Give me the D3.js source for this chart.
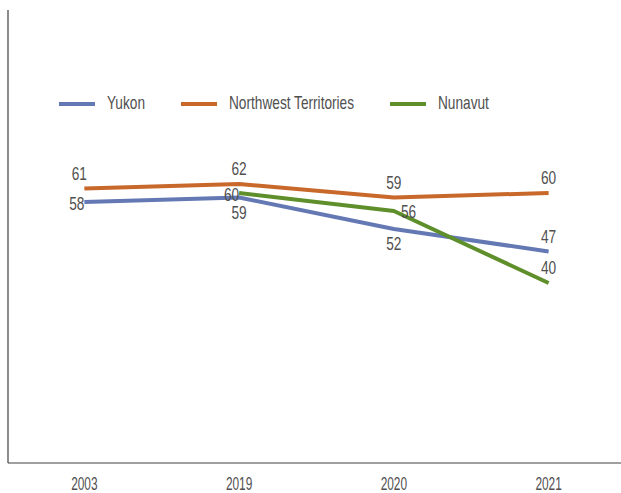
<!DOCTYPE html>
<html>
<head>
<meta charset="utf-8">
<script src="https://cdn.jsdelivr.net/npm/d3@7"></script>
<style>
  html, body { margin: 0; padding: 0; background: #fff; }
  svg text { font-family: "Liberation Sans", Arial, sans-serif; fill: #505050; }
</style>
</head>
<body>
<svg id="chart" width="621" height="493"></svg>
<script>
// Survey years along the x axis
const years = ["2003", "2019", "2020", "2021"];

// Series values per year (null = no data)
const yukon = [58, 59, 52, 47];
const northwest = [61, 62, 59, 60];
const nunavut = [null, 60, 56, 40];

// Where each value label sits relative to its point
const yukonLabelPos = ["left", "below", "below", "above"];
const northwestLabelPos = ["above", "above", "above", "above"];
const nunavutLabelPos = [null, "left", "right", "above"];

const seriesNames = ["Yukon", "Northwest Territories", "Nunavut"];
const seriesColors = ["#6479B4", "#C8682A", "#5E8F2B"];

const series = [
  { name: seriesNames[0], color: seriesColors[0], values: yukon, pos: yukonLabelPos },
  { name: seriesNames[1], color: seriesColors[1], values: northwest, pos: northwestLabelPos },
  { name: seriesNames[2], color: seriesColors[2], values: nunavut, pos: nunavutLabelPos }
];

// Narrow type: regular face squeezed horizontally
function narrowText(sel, px, py, k = 0.7) {
  sel.attr("x", 0).attr("y", 0)
    .attr("transform", `translate(${px},${py}) scale(${k},1)`);
}

const svg = d3.select("#chart");

const x = d3.scaleBand().domain(years).range([7, 626]);
const y = d3.scaleLinear().domain([0, 100]).range([463, 13]);
const cx = d => x(d) + x.bandwidth() / 2;

// Axes
const xAxis = svg.append("g").attr("transform", "translate(0,463)")
  .call(d3.axisBottom(x).tickSize(0).tickPadding(14));
xAxis.select(".domain").attr("d", "M8,0H621").attr("stroke", "#404040").attr("stroke-width", 1.2);
xAxis.selectAll(".tick text")
  .style("font-size", "18px")
  .style("font-family", "'Liberation Sans', Arial, sans-serif")
  .attr("fill", "#505050")
  .attr("dy", null)
  .attr("dominant-baseline", "central")
  .each(function () { narrowText(d3.select(this), 0, 21, 0.66); });

const yAxis = svg.append("g").attr("transform", "translate(8,0)")
  .call(d3.axisLeft(y).tickValues([]).tickSize(0));
yAxis.select(".domain").attr("d", "M0,463V10").attr("stroke", "#404040").attr("stroke-width", 1.2);

// Lines
const line = d3.line()
  .defined(d => d.v != null)
  .x(d => cx(d.year))
  .y(d => y(d.v));

series.forEach(s => {
  const pts = years.map((yr, i) => ({ year: yr, v: s.values[i], pos: s.pos[i] }));
  svg.append("path")
    .datum(pts)
    .attr("d", line)
    .attr("fill", "none")
    .attr("stroke", s.color)
    .attr("stroke-width", 4)
    .attr("stroke-linejoin", "round");

  svg.append("g").selectAll("text")
    .data(pts.filter(d => d.v != null))
    .join("text")
    .style("font-size", "19px")
    .attr("dominant-baseline", "central")
    .attr("text-anchor", d => d.pos === "left" ? "end" : d.pos === "right" ? "start" : "middle")
    .text(d => d.v)
    .each(function (d) {
      let px = cx(d.year), py = y(d.v);
      if (d.pos === "above") { py -= 15; if (d.year === years[0]) px -= 5; }
      else if (d.pos === "below") py += 15;
      else if (d.pos === "left") { py += 2; }
      else if (d.pos === "right") { px += 7; py += 1; }
      narrowText(d3.select(this), px, py, 0.72);
    });
});

// Legend
const legendX = [59, 181, 390];
const legend = svg.append("g");
series.forEach((s, i) => {
  legend.append("line")
    .attr("x1", legendX[i]).attr("x2", legendX[i] + 36)
    .attr("y1", 104).attr("y2", 104)
    .attr("stroke", s.color).attr("stroke-width", 4);
  legend.append("text")
    .attr("dominant-baseline", "central")
    .style("font-size", "18px")
    .text(s.name)
    .call(narrowText, legendX[i] + 48, 103, 0.76);
});
</script>
</body>
</html>
